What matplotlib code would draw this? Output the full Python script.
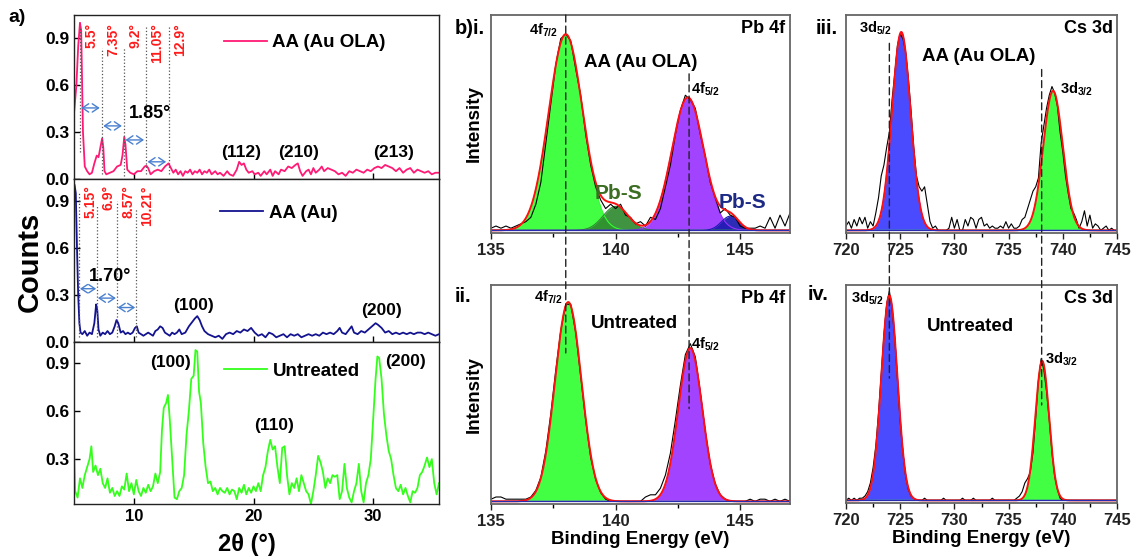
import numpy as np
import matplotlib
matplotlib.use("Agg")
import matplotlib.pyplot as plt
from matplotlib.patches import ConnectionPatch
from matplotlib.ticker import MultipleLocator

plt.rcParams['font.family'] = ['Liberation Sans', 'DejaVu Sans']
plt.rcParams['font.weight'] = 'bold'
plt.rcParams['mathtext.fontset'] = 'custom'
plt.rcParams['mathtext.rm'] = 'Liberation Sans:bold'
plt.rcParams['mathtext.bf'] = 'Liberation Sans:bold'
plt.rcParams['mathtext.it'] = 'Liberation Sans:bold'

# ---------------- XRD data ----------------
ola_x = [5.0,5.2,5.35,5.5,5.6,5.75,5.9,6.1,6.3,6.5,6.7,6.9,7.05,7.2,7.35,7.45,7.55,7.7,8.0,8.3,8.6,8.9,9.05,9.2,9.3,9.45,9.7,10.0,10.3,10.6,10.9,11.05,11.2,11.4,11.7,12.0,12.3,12.6,12.9,13.1,13.3,13.5,13.7,13.9,14.1,14.3,14.5,14.7,14.9,15.1,15.3,15.5,15.7,15.9,16.1,16.3,16.5,16.8,17.0,17.2,17.5,17.8,18.0,18.3,18.6,18.8,19.0,19.2,19.4,19.6,19.9,20.1,20.4,20.6,20.9,21.1,21.4,21.6,21.8,22.1,22.3,22.6,22.9,23.2,23.5,23.7,23.9,24.1,24.4,24.6,24.8,25.0,25.2,25.5,25.7,25.9,26.2,26.5,26.8,27.1,27.4,27.7,28.0,28.3,28.6,28.9,29.2,29.5,29.8,30.1,30.4,30.7,31.0,31.3,31.6,31.9,32.2,32.5,32.8,33.1,33.4,33.7,34.0,34.3,34.6,34.9,35.2,35.5]
ola_y = [0.42,0.6,0.85,1.0,0.95,0.3,0.08,0.05,0.03,0.04,0.1,0.15,0.14,0.2,0.26,0.2,0.05,0.03,0.04,0.05,0.08,0.09,0.15,0.27,0.22,0.06,0.04,0.03,0.05,0.05,0.08,0.085,0.07,0.03,0.05,0.06,0.05,0.08,0.1,0.07,0.04,0.06,0.03,0.05,0.02,0.05,0.04,0.06,0.03,0.05,0.04,0.06,0.03,0.05,0.04,0.06,0.03,0.05,0.03,0.04,0.02,0.05,0.03,0.02,0.06,0.11,0.09,0.1,0.06,0.04,0.05,0.03,0.04,0.02,0.05,0.03,0.06,0.02,0.05,0.03,0.06,0.05,0.08,0.07,0.09,0.1,0.05,0.02,0.05,0.06,0.03,0.07,0.04,0.06,0.08,0.05,0.07,0.06,0.05,0.03,0.04,0.02,0.05,0.04,0.06,0.05,0.04,0.06,0.05,0.07,0.08,0.07,0.09,0.08,0.07,0.05,0.07,0.04,0.06,0.07,0.04,0.06,0.05,0.04,0.05,0.03,0.04,0.04]

au_x = [5.05,5.15,5.25,5.35,5.45,5.55,5.7,5.9,6.1,6.3,6.5,6.7,6.85,6.95,7.05,7.2,7.4,7.6,7.8,8.0,8.2,8.4,8.55,8.7,8.9,9.1,9.3,9.5,9.7,9.9,10.1,10.25,10.4,10.6,10.8,11.0,11.2,11.4,11.6,11.8,12.0,12.2,12.4,12.6,12.8,13.0,13.2,13.4,13.6,13.8,14.0,14.3,14.6,14.9,15.1,15.3,15.5,15.7,15.9,16.2,16.5,16.8,17.1,17.4,17.7,18.0,18.3,18.6,18.9,19.2,19.5,19.8,20.1,20.4,20.7,21.0,21.3,21.6,21.9,22.2,22.5,22.8,23.1,23.4,23.7,24.0,24.3,24.6,24.9,25.2,25.5,25.8,26.1,26.4,26.7,27.0,27.2,27.4,27.7,28.0,28.2,28.4,28.7,29.0,29.3,29.6,29.9,30.2,30.4,30.7,31.0,31.3,31.6,31.9,32.2,32.5,32.8,33.1,33.4,33.7,34.0,34.3,34.6,34.9,35.2,35.5]
au_y = [1.0,0.95,0.6,0.3,0.12,0.06,0.05,0.07,0.04,0.06,0.05,0.12,0.24,0.2,0.08,0.04,0.06,0.05,0.07,0.05,0.06,0.1,0.14,0.12,0.06,0.07,0.05,0.06,0.05,0.06,0.09,0.1,0.06,0.05,0.04,0.05,0.06,0.05,0.04,0.07,0.08,0.1,0.09,0.06,0.05,0.04,0.06,0.05,0.06,0.08,0.05,0.06,0.1,0.13,0.15,0.165,0.14,0.1,0.07,0.05,0.04,0.03,0.04,0.02,0.05,0.06,0.05,0.07,0.06,0.08,0.07,0.09,0.06,0.04,0.05,0.03,0.06,0.05,0.03,0.04,0.05,0.03,0.05,0.04,0.05,0.03,0.04,0.05,0.04,0.05,0.04,0.06,0.05,0.06,0.05,0.07,0.09,0.06,0.05,0.08,0.1,0.06,0.05,0.07,0.06,0.08,0.1,0.12,0.11,0.09,0.06,0.07,0.05,0.06,0.05,0.06,0.05,0.06,0.05,0.06,0.06,0.05,0.06,0.05,0.04,0.05]

un_x = [5.0,5.1,5.3,5.5,5.7,5.9,6.1,6.3,6.45,6.6,6.8,7.0,7.2,7.4,7.6,7.8,8.0,8.2,8.4,8.6,8.8,9.0,9.2,9.4,9.6,9.8,10.0,10.2,10.4,10.6,10.8,11.0,11.2,11.4,11.6,11.8,12.0,12.2,12.35,12.5,12.7,12.85,13.0,13.2,13.4,13.6,13.8,14.0,14.2,14.4,14.6,14.8,15.0,15.15,15.3,15.45,15.6,15.8,16.0,16.2,16.4,16.6,16.8,17.0,17.2,17.4,17.6,17.8,18.0,18.2,18.4,18.6,18.8,19.0,19.2,19.4,19.6,19.8,20.0,20.2,20.4,20.6,20.8,21.0,21.2,21.4,21.6,21.8,22.0,22.2,22.4,22.6,22.8,23.0,23.2,23.4,23.6,23.8,24.0,24.2,24.4,24.6,24.8,25.0,25.2,25.4,25.6,25.8,26.0,26.2,26.4,26.6,26.8,27.0,27.2,27.4,27.6,27.8,28.0,28.2,28.4,28.6,28.8,29.0,29.2,29.4,29.6,29.8,30.0,30.2,30.35,30.5,30.7,30.9,31.1,31.3,31.5,31.7,31.9,32.1,32.3,32.5,32.7,32.9,33.1,33.3,33.5,33.7,33.9,34.1,34.3,34.5,34.7,34.9,35.1,35.3,35.5]
un_y = [0.38,0.1,0.06,0.18,0.12,0.2,0.25,0.3,0.38,0.22,0.26,0.2,0.24,0.15,0.12,0.18,0.09,0.12,0.07,0.1,0.07,0.13,0.11,0.21,0.1,0.15,0.08,0.17,0.1,0.07,0.12,0.09,0.14,0.1,0.13,0.21,0.15,0.22,0.48,0.62,0.65,0.7,0.55,0.3,0.06,0.05,0.1,0.12,0.2,0.45,0.6,0.8,0.82,0.98,0.97,0.72,0.65,0.4,0.25,0.15,0.16,0.1,0.12,0.08,0.12,0.1,0.09,0.12,0.08,0.11,0.1,0.05,0.12,0.09,0.14,0.08,0.12,0.09,0.13,0.1,0.15,0.1,0.2,0.25,0.35,0.42,0.36,0.38,0.25,0.15,0.37,0.38,0.2,0.08,0.15,0.12,0.18,0.1,0.2,0.15,0.1,0.08,0.02,0.1,0.2,0.32,0.28,0.22,0.12,0.18,0.15,0.2,0.19,0.2,0.05,0.1,0.27,0.12,0.06,0.03,0.1,0.15,0.27,0.1,0.03,0.15,0.2,0.3,0.55,0.8,0.94,0.93,0.8,0.58,0.45,0.35,0.3,0.2,0.12,0.1,0.14,0.08,0.12,0.07,0.03,0.1,0.09,0.12,0.2,0.22,0.26,0.31,0.25,0.3,0.15,0.08,0.15]

ola_peaks = [5.5, 7.35, 9.2, 11.05, 12.9]
ola_peak_labels = ['5.5°', '7.35°', '9.2°', '11.05°', '12.9°']
au_peaks = [5.45, 6.95, 8.6, 10.21]
au_peak_labels = ['5.15°', '6.9°', '8.57°', '10.21°']

# ---------------- XPS data ----------------
pb_x = [135.0,135.2,135.4,135.6,135.8,136.0,136.2,136.4,136.6,136.8,137.0,137.2,137.4,137.6,137.8,138.0,138.2,138.4,138.6,138.8,139.0,139.2,139.4,139.6,139.8,140.0,140.2,140.4,140.6,140.8,141.0,141.2,141.4,141.6,141.8,142.0,142.2,142.4,142.6,142.8,143.0,143.2,143.4,143.6,143.8,144.0,144.2,144.4,144.6,144.8,145.0,145.2,145.4,145.6,145.8,146.0,146.2,146.4,146.6,146.8,147.0]
pb_i_raw = [0.01,0.02,0.01,0.02,0.01,0.02,0.03,0.04,0.06,0.12,0.22,0.4,0.58,0.76,0.88,0.9,0.87,0.74,0.62,0.44,0.3,0.2,0.14,0.1,0.12,0.1,0.12,0.07,0.06,0.03,0.04,0.02,0.06,0.05,0.1,0.2,0.3,0.44,0.55,0.62,0.6,0.56,0.44,0.34,0.22,0.15,0.08,0.1,0.07,0.06,0.02,0.01,0.01,0.01,0.02,0.01,0.06,0.01,0.07,0.02,0.08]
pb_ii_raw = [0.01,0.02,0.02,0.01,0.01,0.01,0.01,0.01,0.02,0.05,0.11,0.23,0.4,0.6,0.78,0.9,0.9,0.77,0.57,0.37,0.2,0.1,0.04,0.01,0.0,0.0,0.0,0.0,0.0,0.0,0.0,0.02,0.03,0.03,0.06,0.12,0.22,0.37,0.53,0.67,0.72,0.66,0.5,0.32,0.17,0.08,0.03,0.01,0.0,0.0,0.0,0.0,0.01,0.0,0.01,0.01,0.0,0.01,0.0,0.01,0.0]
cs_x = np.linspace(720, 745, 101)
cs_iii_raw = [0.02,0.04,0.01,0.05,0.02,0.06,0.03,0.06,0.01,0.04,0.02,0.08,
              0.15,0.25,0.3,0.38,0.45,0.6,0.72,0.85,0.9,0.88,0.82,0.7,
              0.55,0.38,0.25,0.2,0.18,0.2,0.12,0.04,0.01,0.02,0.0,0.0,
              0.0,0.0,0.01,0.06,0.01,0.05,0.0,0.0,0.05,0.02,0.06,0.05,
              0.01,0.05,0.06,0.02,0.03,0.01,0.02,0.01,0.01,0.02,0.01,0.04,
              0.01,0.03,0.01,0.01,0.02,0.05,0.06,0.1,0.14,0.18,0.2,0.24,
              0.4,0.48,0.56,0.62,0.66,0.63,0.57,0.45,0.36,0.25,0.17,0.1,
              0.08,0.05,0.01,0.04,0.09,0.02,0.07,0.01,0.03,0.02,0.0,0.01,
              0.02,0.0,0.01,0.0,0.0]
cs_iv_raw = [0.0,0.01,0.0,0.01,0.0,0.01,0.01,0.02,0.04,0.08,0.15,0.25,
             0.4,0.58,0.76,0.9,0.96,0.88,0.74,0.55,0.36,0.22,0.11,0.05,
             0.02,0.01,0.0,0.0,0.0,0.01,0.0,0.0,0.0,0.0,0.0,0.0,
             0.01,0.0,0.0,0.0,0.0,0.0,0.0,0.01,0.0,0.0,0.0,0.01,
             0.0,0.0,0.0,0.0,0.0,0.0,0.01,0.0,0.0,0.0,0.0,0.0,
             0.0,0.0,0.0,0.01,0.02,0.04,0.08,0.1,0.13,0.22,0.38,0.55,
             0.65,0.6,0.5,0.37,0.22,0.11,0.05,0.01,0.0,0.0,0.0,0.0,
             0.0,0.0,0.0,0.0,0.0,0.0,0.0,0.0,0.0,0.0,0.0,0.0,
             0.0,0.0,0.0,0.0,0.0]

# fitted components: centre, height, sigma
pb_i_centres = [138.0, 140.0, 142.9, 144.6]
pb_i_heights = [0.90, 0.11, 0.61, 0.065]
pb_i_sigmas = [0.68, 0.5, 0.64, 0.35]
pb_i_colors = ['#33ff33', '#2f8a2f', '#9933ff', '#1a1ab0']
pb_ii_centres = [138.1, 143.0]
pb_ii_heights = [0.91, 0.70]
pb_ii_sigmas = [0.53, 0.48]
pb_ii_colors = ['#33ff33', '#9933ff']
cs_iii_centres = [725.1, 739.1]
cs_iii_heights = [0.91, 0.64]
cs_iii_sigmas = [0.85, 0.9]
cs_iv_centres = [724.0, 738.1]
cs_iv_heights = [0.94, 0.64]
cs_iv_sigmas = [0.74, 0.63]
cs_colors = ['#3a3aff', '#33ff33']

# ---------------- figure ----------------
fig = plt.figure(figsize=(11.31, 5.59), dpi=100)
W, H = 1131, 559
def ax_px(l, t, r, b):
    return fig.add_axes([l / W, 1 - b / H, (r - l) / W, (b - t) / H])

ax1 = ax_px(74, 15, 439, 179)
ax2 = ax_px(74, 179, 439, 342)
ax3 = ax_px(74, 342, 439, 504)

for ax in (ax1, ax2, ax3):
    ax.set_xlim(5, 35.5)
    ax.tick_params(direction='in', width=1, length=4)
    for s in ax.spines.values():
        s.set_color('#222222'); s.set_linewidth(1.0)
    ax.xaxis.set_major_locator(MultipleLocator(10))

ax1.plot(ola_x, ola_y, color='#ff1a75', lw=1.3, label='AA (Au OLA)')
ax1.set_ylim(0, 1.05)
ax1.set_yticks([0.0, 0.3, 0.6, 0.9])
ax1.set_xticklabels([])
ax2.plot(au_x, au_y, color='#13138f', lw=1.3, label='AA (Au)')
ax2.set_ylim(0, 1.04)
ax2.set_yticks([0.0, 0.3, 0.6, 0.9])
ax2.set_xticklabels([])
ax3.plot(un_x, un_y, color='#33ff1a', lw=1.3, label='Untreated')
ax3.set_ylim(0.02, 1.03)
ax3.set_yticks([0.3, 0.6, 0.9])
for ax in (ax1, ax2, ax3):
    ax.set_yticklabels([f'{t:.1f}' for t in ax.get_yticks()], fontweight='bold', fontsize=12.5)
ax3.set_xticks([10, 20, 30])
ax3.set_xticklabels(['10', '20', '30'], fontweight='bold', fontsize=12)
ax3.set_xlabel('2θ (°)', fontsize=17, fontweight='bold')
ax3.xaxis.set_label_coords((247 - 74) / 365, -0.18)

leg_kw = dict(frameon=False, handlelength=2.3, handletextpad=0.3, borderpad=0, borderaxespad=0,
              prop={'weight': 'bold', 'size': 13.5})
ax1.legend(loc='center left', bbox_to_anchor=(0.41, 0.83), **leg_kw)
ax2.legend(loc='center left', bbox_to_anchor=(0.40, 0.79), **leg_kw)
ax3.legend(loc='center left', bbox_to_anchor=(0.41, 0.82), **leg_kw)

arrow_props = dict(arrowstyle='<->,head_length=0.45,head_width=0.3', color='#4a80d0', lw=1.0,
                   shrinkA=0, shrinkB=0, mutation_scale=10)

# peak marks top
ola_top = [0.97, 0.84, 0.84, 0.97, 0.97]
ola_bot = [0.17, 0.03, 0.02, 0.03, 0.03]
for xp, lab, yt, yb in zip(ola_peaks, ola_peak_labels, ola_top, ola_bot):
    ax1.plot([xp, xp], [yb, yt], ls=':', color='#555555', lw=0.9)
    ax1.text(xp + 0.35, 1.0, lab, rotation=90, color='#ff1a1a', fontsize=10,
             fontweight='bold', ha='left', va='top')
arrow_y1 = [0.455, 0.34, 0.25, 0.11]
for i, ya in enumerate(arrow_y1):
    ax1.annotate('', xy=(ola_peaks[i] + 0.1, ya), xytext=(ola_peaks[i + 1] - 0.2, ya),
                 arrowprops=arrow_props)
ax1.text(9.6, 0.42, '1.85°', fontsize=13, fontweight='bold', va='center')
for lab, xx in zip(['(112)', '(210)', '(213)'], [19.0, 23.8, 31.7]):
    ax1.text(xx, 0.17, lab, fontsize=12.5, fontweight='bold', ha='center', va='center')

au_top = [0.95, 0.87, 0.9, 0.85]
for xp, lab, yt in zip(au_peaks, au_peak_labels, au_top):
    ax2.plot([xp, xp], [0.03, yt], ls=':', color='#555555', lw=0.9)
    ax2.text(xp + 0.35, 1.0, lab, rotation=90, color='#ff1a1a', fontsize=10,
             fontweight='bold', ha='left', va='top')
arrow_y2 = [0.34, 0.28, 0.22]
for i, ya in enumerate(arrow_y2):
    ax2.annotate('', xy=(au_peaks[i] + 0.05, ya), xytext=(au_peaks[i + 1] - 0.1, ya),
                 arrowprops=arrow_props)
ax2.text(8.0, 0.42, '1.70°', fontsize=13, fontweight='bold', va='center', ha='center')
ax2.text(15.0, 0.23, '(100)', fontsize=12.5, fontweight='bold', ha='center', va='center')
ax2.text(30.7, 0.20, '(200)', fontsize=12.5, fontweight='bold', ha='center', va='center')

ax3.text(13.1, 0.90, '(100)', fontsize=12.5, fontweight='bold', ha='center', va='center')
ax3.text(32.7, 0.91, '(200)', fontsize=12.5, fontweight='bold', ha='center', va='center')
ax3.text(21.7, 0.51, '(110)', fontsize=12.5, fontweight='bold', ha='center', va='center')

fig.text(30 / W, 1 - 262 / H, 'Counts', rotation=90, fontsize=21, fontweight='bold',
         ha='center', va='center')
fig.text(8 / W, 1 - 18 / H, 'a)', fontsize=14, fontweight='bold', ha='left', va='center')

# ---------------- XPS panels ----------------
axi = ax_px(491, 15, 790, 233)
axii = ax_px(491, 285, 790, 504)
axiii = ax_px(846, 15, 1117, 233)
axiv = ax_px(846, 285, 1117, 503)

def gauss(x, c, h, s):
    return h * np.exp(-0.5 * ((x - c) / s) ** 2)

def draw_xps(ax, xr, rx, ry, cs, hs, ss, cols, base=0.012):
    xx = np.linspace(xr[0], xr[1], 800)
    total = np.full_like(xx, base)
    for c, h, s, col in zip(cs, hs, ss, cols):
        g = gauss(xx, c, h, s)
        ax.fill_between(xx, base, base + g, color=col, alpha=0.92, lw=0)
        ax.plot(xx, base + g, color=col, lw=0.8)
        total = total + g
    ax.plot(rx, np.array(ry) + base, color='black', lw=0.8)
    ax.plot(xx, total, color='#ff1010', lw=1.4)
    ax.axhline(base, color='#2a2ab0', lw=0.9)
    ax.set_xlim(*xr)
    ax.set_ylim(0, 1.0)
    ax.set_yticks([])
    for s in ax.spines.values():
        s.set_color('#666666'); s.set_linewidth(1.3)
    ax.tick_params(axis='x', direction='out', length=4, width=1, colors='#222222')
    ax.tick_params(axis='x', which='minor', direction='out', length=3, width=1)

draw_xps(axi, (135, 147), pb_x, pb_i_raw, pb_i_centres, pb_i_heights, pb_i_sigmas, pb_i_colors)
draw_xps(axii, (135, 147), pb_x, pb_ii_raw, pb_ii_centres, pb_ii_heights, pb_ii_sigmas, pb_ii_colors)
draw_xps(axiii, (720, 745), cs_x, cs_iii_raw, cs_iii_centres, cs_iii_heights, cs_iii_sigmas, cs_colors)
draw_xps(axiv, (720, 745), cs_x, cs_iv_raw, cs_iv_centres, cs_iv_heights, cs_iv_sigmas, cs_colors)

for ax in (axi, axii):
    ax.set_xticks([135, 140, 145])
    ax.xaxis.set_minor_locator(MultipleLocator(2.5))
    ax.set_xticklabels(['135', '140', '145'], fontweight='bold', fontsize=12)
    ax.set_ylabel('Intensity', fontsize=13.5, fontweight='bold', labelpad=6)
for ax in (axiii, axiv):
    ax.set_xticks([720, 725, 730, 735, 740, 745])
    ax.xaxis.set_minor_locator(MultipleLocator(2.5))
    ax.set_xticklabels(['720', '725', '730', '735', '740', '745'], fontweight='bold', fontsize=12)
axii.set_xlabel('Binding Energy (eV)', fontsize=13.5, fontweight='bold', labelpad=1)
axiv.set_xlabel('Binding Energy (eV)', fontsize=13.5, fontweight='bold', labelpad=1)

# panel texts
fig.text(455 / W, 1 - 28 / H, 'b)i.', fontsize=14.5, fontweight='bold', va='center')
fig.text(455 / W, 1 - 297 / H, 'ii.', fontsize=14.5, fontweight='bold', va='center')
fig.text(816 / W, 1 - 28 / H, 'iii.', fontsize=14.5, fontweight='bold', va='center')
fig.text(808 / W, 1 - 295 / H, 'iv.', fontsize=14.5, fontweight='bold', va='center')

for ax, t in ((axi, 'Pb 4f'), (axii, 'Pb 4f'), (axiii, 'Cs 3d'), (axiv, 'Cs 3d')):
    ax.text(0.985, 0.94, t, transform=ax.transAxes, ha='right', va='center',
            fontsize=13, fontweight='bold')

axi.text(137.1, 0.93, r'4f$_{7/2}$', fontsize=10.5, ha='center', va='center')
axi.text(141.0, 0.78, 'AA (Au OLA)', fontsize=13.5, ha='center', va='center')
axi.text(143.6, 0.66, r'4f$_{5/2}$', fontsize=10.5, ha='center', va='center')
axi.text(140.1, 0.18, 'Pb-S', fontsize=15, ha='center', va='center', color='#3b6e23')
axi.text(145.1, 0.14, 'Pb-S', fontsize=15, ha='center', va='center', color='#1c2a86')

axii.text(137.3, 0.945, r'4f$_{7/2}$', fontsize=10.5, ha='center', va='center')
axii.text(140.75, 0.825, 'Untreated', fontsize=13.5, ha='center', va='center')
axii.text(143.6, 0.73, r'4f$_{5/2}$', fontsize=10.5, ha='center', va='center')

axiii.text(722.7, 0.94, r'3d$_{5/2}$', fontsize=10.5, ha='center', va='center')
axiii.text(732.2, 0.81, 'AA (Au OLA)', fontsize=13.5, ha='center', va='center')
axiii.text(741.3, 0.66, r'3d$_{3/2}$', fontsize=10.5, ha='center', va='center')

axiv.text(722.0, 0.94, r'3d$_{5/2}$', fontsize=10.5, ha='center', va='center')
axiv.text(731.5, 0.81, 'Untreated', fontsize=13.5, ha='center', va='center')
axiv.text(739.9, 0.66, r'3d$_{3/2}$', fontsize=10.5, ha='center', va='center')

# dashed connecting lines
dash_specs = [
    (axi, axii, 138.0, 1.0, 0.69),
    (axi, axii, 142.95, 0.73, 0.436),
    (axiii, axiv, 724.0, 0.87, 0.573),
    (axiii, axiv, 738.05, 0.75, 0.45),
]
for a_top, a_bot, xv, y0, y1 in dash_specs:
    cp = ConnectionPatch(xyA=(xv, y0), coordsA=a_top.transData, xyB=(xv, y1), coordsB=a_bot.transData,
                         color='#222222', lw=1.0, linestyle=(0, (5, 3)))
    fig.add_artist(cp)

fig.savefig('out.png', dpi=100)
